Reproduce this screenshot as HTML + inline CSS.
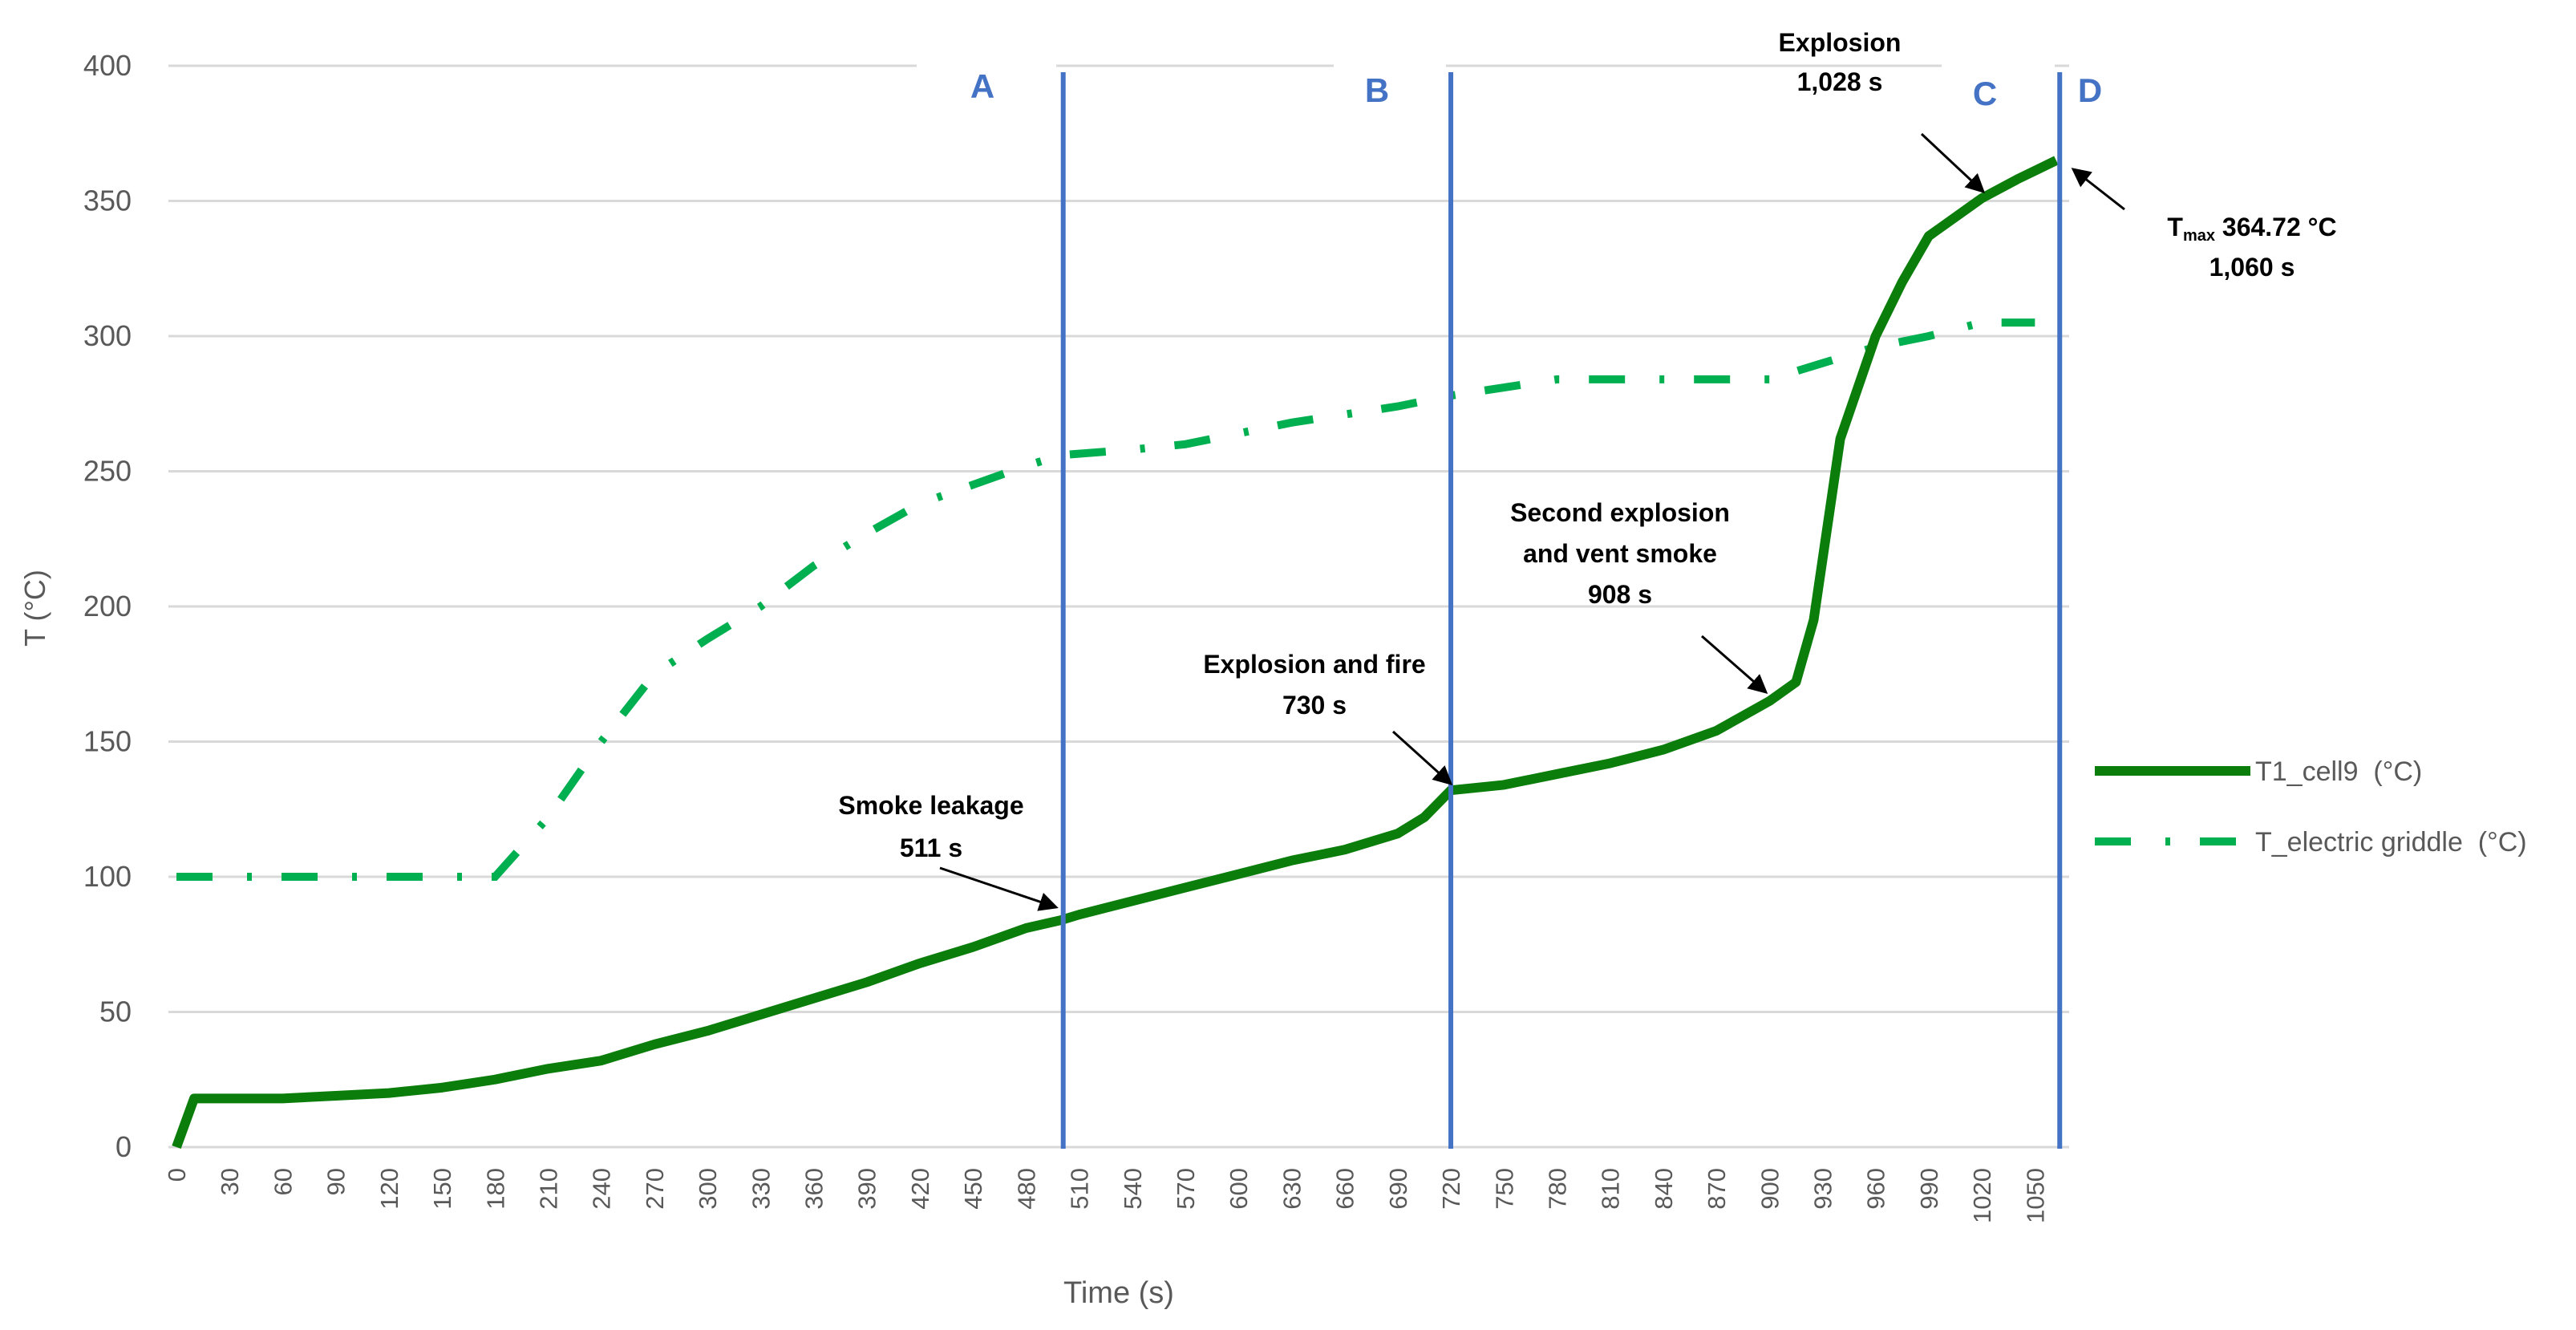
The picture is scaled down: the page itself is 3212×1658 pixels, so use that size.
<!DOCTYPE html>
<html><head><meta charset="utf-8"><style>
html,body{margin:0;padding:0;background:#fff;}
svg{display:block;font-family:"Liberation Sans",sans-serif;}
</style></head><body>
<svg id="chart" width="3212" height="1658" viewBox="0 0 3212 1658" xmlns="http://www.w3.org/2000/svg">
<rect width="3212" height="1658" fill="#fff"/>
<g id="grid"></g>
<g id="yticks"></g>
<g id="xticks"></g>
<g id="series"></g>
<g id="events"></g>
<text x="0" y="0" transform="translate(56,758) rotate(-90)" text-anchor="middle" font-size="36" fill="#595959">T (°C)</text>
<text x="1395" y="1624" text-anchor="middle" font-size="38" fill="#595959">Time (s)</text>
<g>
<line x1="2612" y1="961" x2="2806" y2="961" stroke="#0a7d0a" stroke-width="12"/>
<text x="2812" y="973" font-size="34" fill="#595959" xml:space="preserve">T1_cell9  (°C)</text>
<line x1="2612" y1="1049" x2="2806" y2="1049" stroke="#00b050" stroke-width="10" stroke-dasharray="45 43 6 37"/>
<text x="2812" y="1061" font-size="34" fill="#595959" xml:space="preserve">T_electric griddle  (°C)</text>
</g>
<defs><marker id="ah" markerWidth="8" markerHeight="8" refX="7" refY="4" orient="auto" markerUnits="strokeWidth"><path d="M0,0 L8,4 L0,8 Z" fill="#000"/></marker></defs>
<g id="annot" font-weight="bold" font-size="32" fill="#000" text-anchor="middle"></g>
</svg>
<script>
const yTicks=[0,50,100,150,200,250,300,350,400];
const xTicks=[0,30,60,90,120,150,180,210,240,270,300,330,360,390,420,450,480,510,540,570,600,630,660,690,720,750,780,810,840,870,900,930,960,990,1020,1050];
const t1Time=[0,10,60,90,120,150,180,210,240,270,300,330,360,390,420,450,480,500,510,540,570,600,630,660,690,705,720,750,780,810,840,870,900,915,925,940,960,975,990,1020,1040,1062];
const t1Temp=[0,18,18,19,20,22,25,29,32,38,43,49,55,61,68,74,81,84,86,91,96,101,106,110,116,122,132,134,138,142,147,154,165,172,195,262,300,320,337,351,358,365];
const grTime=[0,180,210,240,270,300,330,360,390,420,450,480,500,540,570,600,630,660,690,720,750,780,810,840,870,900,930,960,990,1020,1050];
const grTemp=[100,100,122,150,175,188,200,215,227,238,245,252,256,258,260,264,268,271,274,278,281,284,284,284,284,284,290,296,300,305,305];
const eventTimes=[501,720,1064];
const eventLabels=['A','B','D'];
const NS='http://www.w3.org/2000/svg';
const X=t=>220+t*2.207, Y=v=>1430-v*3.37;
function mk(tag,attrs,parent){const e=document.createElementNS(NS,tag);for(const k in attrs)e.setAttribute(k,attrs[k]);parent.appendChild(e);return e;}
const grid=document.getElementById('grid'),yt=document.getElementById('yticks'),xt=document.getElementById('xticks'),ser=document.getElementById('series'),ev=document.getElementById('events');
yTicks.forEach(v=>{
 const l=mk('line',{x1:210,x2:2580,y1:Y(v),y2:Y(v),stroke:'#d9d9d9','stroke-width':3},grid);
 
 
 const t=mk('text',{x:164,y:Y(v)+12,'text-anchor':'end','font-size':36,fill:'#595959'},yt);
 t.textContent=v;
 
 
});
xTicks.forEach(v=>{
 const t=mk('text',{transform:`translate(${X(v)+11},1456) rotate(-90)`,'text-anchor':'end','font-size':31,fill:'#595959'},xt);
 t.textContent=v;
 
 
});
[[1143,1317],[1663,1803],[2421,2562]].forEach(b=>{mk('rect',{x:b[0],y:60,width:b[1]-b[0],height:40,fill:'#fff'},grid);});
const p2=mk('polyline',{points:grTime.map((t,i)=>X(t)+','+Y(grTemp[i])).join(' '),fill:'none',stroke:'#00b050','stroke-width':10,'stroke-dasharray':'45 43 6 37'},ser);


const p1=mk('polyline',{points:t1Time.map((t,i)=>X(t)+','+Y(t1Temp[i])).join(' '),fill:'none',stroke:'#0a7d0a','stroke-width':12,'stroke-linejoin':'round'},ser);


eventTimes.forEach((t,i)=>{
 const l=mk('line',{x1:X(t),x2:X(t),y1:90,y2:1432,stroke:'#4472c4','stroke-width':6},ev);
 
 
});
const labs=[['A',1225,122],['B',1717,127],['C',2475,131],['D',2606,127]];
labs.forEach(a=>{
 const t=mk('text',{x:a[1],y:a[2],'text-anchor':'middle','font-size':42,'font-weight':'bold',fill:'#4472c4'},ev);
 t.textContent=a[0];
 
 
});
const an=document.getElementById('annot');
const notes=[
 ['annotation-smoke-leakage',1161,[1015,1068],['Smoke leakage','511 s'],[1172,1082,1317,1131]],
 ['annotation-explosion-fire',1639,[839,890],['Explosion and fire','730 s'],[1737,912,1809,977]],
 ['annotation-second-explosion',2020,[650,701,752],['Second explosion','and vent smoke','908 s'],[2122,793,2202,863]],
 ['annotation-explosion',2294,[64,113],['Explosion','1,028 s'],[2396,167,2473,239]]
];
notes.forEach(n=>{
 n[3].forEach((s,i)=>{
  const t=mk('text',{x:n[1],y:n[2][i]},an);
  t.textContent=s;
  
  
 });
 const a=mk('line',{x1:n[4][0],y1:n[4][1],x2:n[4][2],y2:n[4][3],stroke:'#000','stroke-width':3,'marker-end':'url(#ah)'},an);
 
 
});
const tm=mk('text',{x:2808,y:294},an);
tm.innerHTML='T<tspan font-size="20" dy="6">max</tspan><tspan dy="-6"> 364.72 °C</tspan>';


const tm2=mk('text',{x:2808,y:344},an);
tm2.textContent='1,060 s';


const ta=mk('line',{x1:2649,y1:261,x2:2585,y2:211,stroke:'#000','stroke-width':3,'marker-end':'url(#ah)'},an);


</script>
</body></html>
